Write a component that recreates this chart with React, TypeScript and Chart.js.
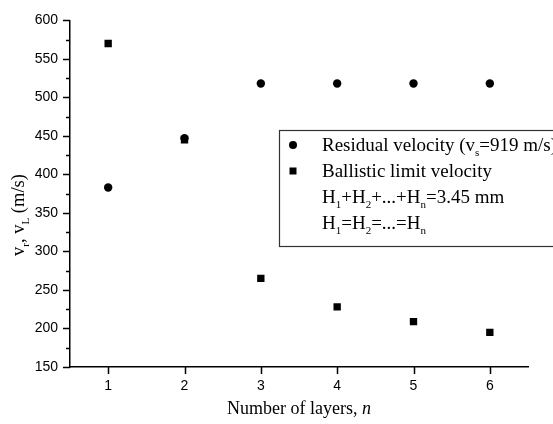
import React, { useEffect, useRef } from "react";
import { Chart, registerables } from "chart.js";

Chart.register(...registerables);

const layers = [1, 2, 3, 4, 5, 6];
const residualVelocity = [383, 447, 518, 518, 518, 518];
const ballisticLimit = [570, 445, 265, 228, 209, 195];
const xTicks = [1, 2, 3, 4, 5, 6];
const yMin = 150;
const yMax = 600;
const yStep = 50;
const yMinorStep = 25;

const SERIF = "'Liberation Serif', 'Times New Roman', serif";
const SANS = "'Liberation Sans', Arial, sans-serif";

type Seg = { t: string; sub?: boolean; italic?: boolean };

function drawSegs(ctx: CanvasRenderingContext2D, segs: Seg[], x: number, y: number, size: number) {
  let cx = x;
  for (const s of segs) {
    const fs = s.sub ? Math.round(size * 0.6) : size;
    ctx.font = `${s.italic ? "italic " : ""}${fs}px ${SERIF}`;
    const dy = s.sub ? size * 0.28 : 0;
    ctx.fillText(s.t, cx, y + dy);
    cx += ctx.measureText(s.t).width;
  }
  return cx - x;
}

function measureSegs(ctx: CanvasRenderingContext2D, segs: Seg[], size: number) {
  let w = 0;
  for (const s of segs) {
    const fs = s.sub ? Math.round(size * 0.6) : size;
    ctx.font = `${s.italic ? "italic " : ""}${fs}px ${SERIF}`;
    w += ctx.measureText(s.t).width;
  }
  return w;
}

const decorPlugin = {
  id: "decor",
  afterDraw(chart: any) {
    const ctx: CanvasRenderingContext2D = chart.ctx;
    const xs = chart.scales.x;
    const ys = chart.scales.y;
    const area = chart.chartArea;
    ctx.save();
    ctx.strokeStyle = "#000";
    ctx.fillStyle = "#000";
    ctx.lineWidth = 1.5;
    // y ticks (major + minor)
    for (let v = yMin; v <= yMax; v += yMinorStep) {
      const py = Math.round(ys.getPixelForValue(v)) + 0.5;
      const major = (v - yMin) % yStep === 0;
      ctx.beginPath();
      ctx.moveTo(area.left, py);
      ctx.lineTo(area.left - (major ? 7 : 4), py);
      ctx.stroke();
    }
    // x ticks
    for (const v of xTicks) {
      const px = Math.round(xs.getPixelForValue(v)) + 0.5;
      ctx.beginPath();
      ctx.moveTo(px, area.bottom);
      ctx.lineTo(px, area.bottom + 7);
      ctx.stroke();
    }
    // axis titles
    ctx.textBaseline = "alphabetic";
    const xt: Seg[] = [{ t: "Number of layers, " }, { t: "n", italic: true }];
    const xw = measureSegs(ctx, xt, 18);
    drawSegs(ctx, xt, (area.left + area.right) / 2 - xw / 2, 414, 18);

    const yt: Seg[] = [
      { t: "v" },
      { t: "r", sub: true },
      { t: ", v" },
      { t: "L", sub: true },
      { t: " (m/s)" },
    ];
    const yw = measureSegs(ctx, yt, 18.5);
    ctx.save();
    ctx.translate(24, 215);
    ctx.rotate(-Math.PI / 2);
    drawSegs(ctx, yt, -yw / 2, 0, 18.5);
    ctx.restore();

    // legend box
    ctx.lineWidth = 1.2;
    ctx.strokeStyle = "#333";
    ctx.strokeRect(279.5, 130.5, 300, 116);
    ctx.fillStyle = "#000";
    // markers
    ctx.beginPath();
    ctx.arc(293, 145, 4, 0, Math.PI * 2);
    ctx.fill();
    ctx.fillRect(289.5, 167.5, 7, 7);
    const lx = 322;
    const fs = 19;
    drawSegs(ctx, [{ t: "Residual velocity (v" }, { t: "s", sub: true }, { t: "=919 m/s)" }], lx, 151, fs);
    drawSegs(ctx, [{ t: "Ballistic limit velocity" }], lx, 177, fs);
    drawSegs(
      ctx,
      [
        { t: "H" },
        { t: "1", sub: true },
        { t: "+H" },
        { t: "2", sub: true },
        { t: "+...+H" },
        { t: "n", sub: true },
        { t: "=3.45 mm" },
      ],
      lx,
      203,
      fs
    );
    drawSegs(
      ctx,
      [
        { t: "H" },
        { t: "1", sub: true },
        { t: "=H" },
        { t: "2", sub: true },
        { t: "=...=H" },
        { t: "n", sub: true },
      ],
      lx,
      229,
      fs
    );
    ctx.restore();
  },
};

export default function App() {
  const ref = useRef<HTMLCanvasElement>(null);
  useEffect(() => {
    document.body.style.margin = "0";
    const canvas = ref.current!;
    const chart = new Chart(canvas, {
      type: "scatter",
      data: {
        datasets: [
          {
            label: "Residual velocity",
            data: layers.map((n, i) => ({ x: n, y: residualVelocity[i] })),
            pointStyle: "circle",
            pointRadius: 4.2,
            backgroundColor: "#000",
            borderColor: "#000",
            borderWidth: 0,
          },
          {
            label: "Ballistic limit velocity",
            data: layers.map((n, i) => ({ x: n, y: ballisticLimit[i] })),
            pointStyle: "rect",
            pointRadius: 5.2,
            backgroundColor: "#000",
            borderColor: "#000",
            borderWidth: 0,
          },
        ],
      },
      options: {
        responsive: false,
        animation: false,
        layout: { padding: { top: 15, right: 25, left: 0, bottom: 0 } },
        plugins: { legend: { display: false }, tooltip: { enabled: false } },
        scales: {
          x: {
            type: "linear",
            min: 0.5,
            max: 6.5,
            afterBuildTicks: (s: any) => {
              s.ticks = xTicks.map((v) => ({ value: v }));
            },
            afterFit: (s: any) => {
              s.height = 57;
            },
            grid: { display: false, drawTicks: false, tickLength: 0 },
            border: { display: true, color: "#000", width: 1.5 },
            ticks: {
              color: "#000",
              padding: 11,
              font: { family: SANS, size: 14 },
              maxRotation: 0,
            },
          },
          y: {
            type: "linear",
            min: yMin,
            max: yMax,
            afterFit: (s: any) => {
              s.width = 70;
            },
            grid: { display: false, drawTicks: false, tickLength: 0 },
            border: { display: true, color: "#000", width: 1.5 },
            ticks: {
              stepSize: yStep,
              color: "#000",
              padding: 12,
              font: { family: SANS, size: 14 },
            },
          },
        },
      },
      plugins: [decorPlugin],
    });
    return () => chart.destroy();
  }, []);
  return <canvas ref={ref} width={553} height={424} style={{ display: "block" }} />;
}
